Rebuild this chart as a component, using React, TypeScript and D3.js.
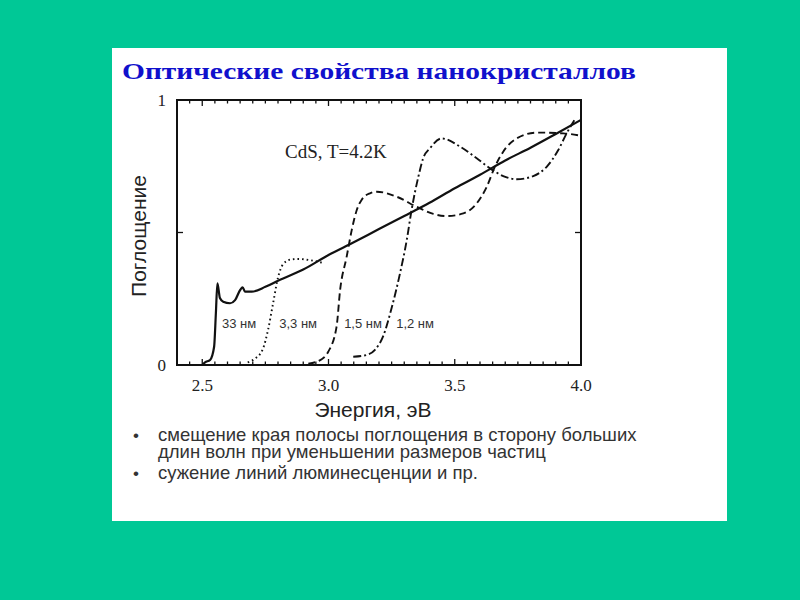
import React from "react";
import * as d3 from "d3";

const xTickLabels = ["2.5", "3.0", "3.5", "4.0"];
const xTickValues = [2.5, 3.0, 3.5, 4.0];
const yTickLabels = ["0", "1"];
const yTickValues = [0, 1];

const solidX = [2.5, 2.511, 2.531, 2.547, 2.554, 2.56, 2.57, 2.583, 2.61, 2.63, 2.65, 2.66, 2.669, 2.696, 2.75, 2.8, 2.9, 3.0, 3.1, 3.2, 3.3, 3.4, 3.5, 3.6, 3.7, 3.8, 3.9, 4.0];
const solidY = [0.0, 0.01, 0.019, 0.069, 0.196, 0.308, 0.253, 0.239, 0.233, 0.245, 0.283, 0.293, 0.277, 0.277, 0.295, 0.318, 0.36, 0.415, 0.463, 0.513, 0.562, 0.612, 0.667, 0.718, 0.772, 0.82, 0.872, 0.925];

const dottedX = [2.68, 2.71, 2.74, 2.76, 2.78, 2.8, 2.82, 2.85, 2.88, 2.93, 2.98];
const dottedY = [0.01, 0.025, 0.06, 0.13, 0.23, 0.33, 0.38, 0.398, 0.4, 0.395, 0.385];

const dashedX = [2.92, 2.973, 2.999, 3.032, 3.046, 3.072, 3.092, 3.112, 3.131, 3.164, 3.191, 3.27, 3.349, 3.415, 3.468, 3.534, 3.587, 3.627, 3.659, 3.692, 3.745, 3.825, 3.93, 4.0];
const dashedY = [0.005, 0.022, 0.05, 0.145, 0.283, 0.409, 0.509, 0.585, 0.623, 0.648, 0.654, 0.635, 0.597, 0.57, 0.562, 0.572, 0.61, 0.673, 0.748, 0.805, 0.855, 0.877, 0.874, 0.865];

const dashDotX = [3.098, 3.151, 3.184, 3.217, 3.25, 3.283, 3.31, 3.329, 3.356, 3.375, 3.402, 3.448, 3.521, 3.587, 3.64, 3.692, 3.745, 3.811, 3.864, 3.91, 3.943, 3.97, 3.976];
const dashDotY = [0.031, 0.038, 0.057, 0.11, 0.215, 0.345, 0.472, 0.585, 0.711, 0.78, 0.818, 0.855, 0.824, 0.78, 0.742, 0.713, 0.701, 0.713, 0.748, 0.811, 0.874, 0.918, 0.927];

const sizeLabels = ["33 нм", "3,3 нм", "1,5 нм", "1,2 нм"];
const sizeLabelX = [2.578, 2.805, 3.062, 3.268];
const sizeLabelY = [0.16, 0.16, 0.16, 0.16];

const title = "Оптические свойства нанокристаллов";
const yLabel = "Поглощение";
const xLabel = "Энергия, эВ";
const annotation = "CdS, T=4.2K";
const bullets = [
  ["смещение края полосы поглощения в сторону больших", "длин волн при уменьшении размеров частиц"],
  ["сужение линий люминесценции и пр."],
];

const SERIF = "'Liberation Serif', 'Times New Roman', serif";
const SANS = "'Liberation Sans', Arial, sans-serif";

export default function App() {
  const x = d3.scaleLinear().domain([2.4, 4.0]).range([177, 581]);
  const y = d3.scaleLinear().domain([0, 1]).range([365, 100]);

  const line = d3
    .line<[number, number]>()
    .x((d) => x(d[0]))
    .y((d) => y(d[1]))
    .curve(d3.curveMonotoneX);

  const zip = (a: number[], b: number[]) => a.map((v, i) => [v, b[i]] as [number, number]);

  const minorTicks = d3.range(49, 80).map((i) => i * 0.05);
  const majorSet = new Set(["2.50", "3.00", "3.50"]);

  const [x0, x1] = x.range();
  const [yb, yt] = y.range();

  const bulletLines: { text: string; bullet: boolean }[] = [];
  bullets.forEach((b) => b.forEach((t, i) => bulletLines.push({ text: t, bullet: i === 0 })));
  const bulletBaselines = [441, 458, 479];

  return (
    <svg
      width={800}
      height={600}
      style={{ position: "absolute", left: 0, top: 0, display: "block" }}
    >
      <rect x={0} y={0} width={800} height={600} fill="#00C896" />
      <rect x={112} y={48} width={615} height={473} fill="#ffffff" />

      <text
        x={122}
        y={79}
        fontFamily={SERIF}
        fontWeight="bold"
        fontSize={24}
        fill="#1010CC"
        textLength={514}
        lengthAdjust="spacingAndGlyphs"
      >
        {title}
      </text>

      {/* ticks */}
      {minorTicks.map((t, i) => {
        const major = majorSet.has(t.toFixed(2));
        const len = major ? 6 : 3.5;
        return (
          <g key={i} stroke="#111" strokeWidth={1.3}>
            <line x1={x(t)} x2={x(t)} y1={yb} y2={yb - len} />
            <line x1={x(t)} x2={x(t)} y1={yt} y2={yt + len} />
          </g>
        );
      })}
      <g stroke="#111" strokeWidth={1.3}>
        <line x1={x0} x2={x0 + 6} y1={y(0.5)} y2={y(0.5)} />
        <line x1={x1} x2={x1 - 6} y1={y(0.5)} y2={y(0.5)} />
      </g>

      {/* curves */}
      <g fill="none" stroke="#111">
        <path d={line(zip(solidX, solidY)) || ""} strokeWidth={2.2} />
        <path d={line(zip(dottedX, dottedY)) || ""} strokeWidth={1.9} strokeDasharray="1.6 3" />
        <path d={line(zip(dashedX, dashedY)) || ""} strokeWidth={1.9} strokeDasharray="7 4" />
        <path d={line(zip(dashDotX, dashDotY)) || ""} strokeWidth={1.9} strokeDasharray="8 3 2 3" />
      </g>

      <rect x={x0} y={yt} width={x1 - x0} height={yb - yt} fill="none" stroke="#111" strokeWidth={2} />

      {/* axis labels */}
      {xTickValues.map((v, i) => (
        <text key={i} x={x(v)} y={391} textAnchor="middle" fontFamily={SERIF} fontSize={17} fill="#222">
          {xTickLabels[i]}
        </text>
      ))}
      {yTickValues.map((v, i) => (
        <text key={i} x={166} y={y(v) + 6} textAnchor="end" fontFamily={SERIF} fontSize={17} fill="#222">
          {yTickLabels[i]}
        </text>
      ))}
      <text
        transform="translate(146,236) rotate(-90)"
        textAnchor="middle"
        fontFamily={SANS}
        fontSize={21}
        fill="#222"
      >
        {yLabel}
      </text>
      <text x={373} y={417} textAnchor="middle" fontFamily={SANS} fontSize={21} fill="#222">
        {xLabel}
      </text>

      <text x={285} y={158} fontFamily={SERIF} fontSize={19} fill="#222">
        {annotation}
      </text>

      {sizeLabels.map((s, i) => (
        <text key={i} x={x(sizeLabelX[i])} y={y(sizeLabelY[i]) + 5} fontFamily={SANS} fontSize={13} fill="#333">
          {s}
        </text>
      ))}

      {bulletLines.map((b, i) => (
        <g key={i}>
          {b.bullet && (
            <text x={136} y={bulletBaselines[i]} textAnchor="middle" fontFamily={SANS} fontSize={17} fill="#333">
              •
            </text>
          )}
          <text x={158} y={bulletBaselines[i]} fontFamily={SANS} fontSize={18.5} fill="#333">
            {b.text}
          </text>
        </g>
      ))}
    </svg>
  );
}
